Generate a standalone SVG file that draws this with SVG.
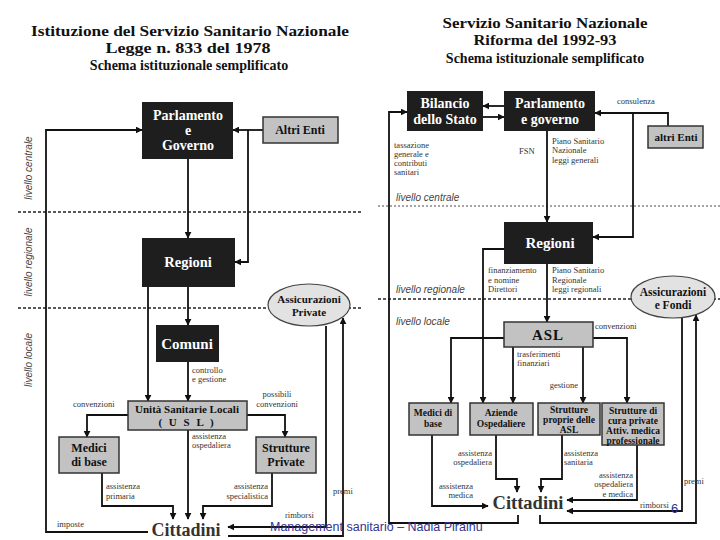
<svg xmlns="http://www.w3.org/2000/svg" width="720" height="540" viewBox="0 0 720 540">
<defs>
<marker id="ah" viewBox="0 0 10 10" refX="9" refY="5" markerWidth="7" markerHeight="7" markerUnits="userSpaceOnUse" orient="auto"><path d="M0,0 L10,5 L0,10 z" fill="#111"/></marker>
<style>
.title{font-family:"Liberation Serif",serif;font-weight:bold;fill:#111;text-anchor:middle}
.dark{fill:#1e1e1e}
.wt{font-family:"Liberation Serif",serif;font-weight:bold;fill:#fff;text-anchor:middle}
.gray{fill:#c2c2c2;stroke:#333;stroke-width:1.5}
.bt{font-family:"Liberation Serif",serif;font-weight:bold;fill:#111;text-anchor:middle}
.ell{fill:#e2e2e2;stroke:#444;stroke-width:1.2}
.lbl{font-family:"Liberation Serif",serif;font-size:8.5px;fill:#333}
.lv{font-family:"Liberation Sans",sans-serif;font-style:italic;font-size:10px;fill:#444}
.dash{stroke:#222;stroke-width:1.3;stroke-dasharray:3 2;fill:none}
.dashl{stroke:#888;stroke-width:1.3;stroke-dasharray:2 2;fill:none}
.ca{fill:none;stroke:#111;stroke-width:1.8;marker-end:url(#ah)}
.cit{font-family:"Liberation Serif",serif;font-weight:bold;fill:#333;text-anchor:middle}
</style>
</defs>
<rect width="720" height="540" fill="#fff"/>

<!-- Left titles -->
<text class="title" x="190" y="36" font-size="15" textLength="318" lengthAdjust="spacingAndGlyphs">Istituzione del Servizio Sanitario Nazionale</text>
<text class="title" x="188" y="53" font-size="15" textLength="165" lengthAdjust="spacingAndGlyphs">Legge n. 833 del 1978</text>
<text class="title" x="189" y="70" font-size="14">Schema istituzionale semplificato</text>

<!-- Right titles -->
<text class="title" x="545" y="28" font-size="15" textLength="205" lengthAdjust="spacingAndGlyphs">Servizio Sanitario Nazionale</text>
<text class="title" x="545" y="45" font-size="15" textLength="143" lengthAdjust="spacingAndGlyphs">Riforma del 1992-93</text>
<text class="title" x="545" y="63" font-size="14">Schema istituzionale semplificato</text>

<!-- Level separators -->
<line class="dash" x1="18" y1="212" x2="362" y2="212"/>
<line class="dash" x1="18" y1="308" x2="362" y2="308"/>
<line class="dashl" x1="378" y1="206" x2="720" y2="206"/>
<line class="dash" x1="378" y1="299" x2="720" y2="299"/>
<text class="lv" transform="translate(32,168) rotate(-90)" text-anchor="middle">livello centrale</text>
<text class="lv" transform="translate(32,262) rotate(-90)" text-anchor="middle">livello regionale</text>
<text class="lv" transform="translate(32,360) rotate(-90)" text-anchor="middle">livello locale</text>
<text class="lv" x="396" y="201" font-size="10.5">livello centrale</text>
<text class="lv" x="396" y="293" font-size="10.5">livello regionale</text>
<text class="lv" x="396" y="325" font-size="10.5">livello locale</text>

<!-- Left connectors -->
<g id="connectors-left">
<path class="ca" d="M188,159 V238"/>
<path class="ca" d="M263,130 H233"/>
<path class="ca" d="M248,130 V262 H235"/>
<path class="ca" d="M188,287 V325"/>
<path class="ca" d="M148,287 V401"/>
<path class="ca" d="M188,362 V401"/>
<path class="ca" d="M128,415 H87 V437"/>
<path class="ca" d="M247,415 H285 V437"/>
<path class="ca" d="M188,430 V519"/>
<path class="ca" d="M102,473 V506 H173 V519"/>
<path class="ca" d="M272,473 V506 H203 V519"/>
<path class="ca" d="M148,532 H46 V130 H142"/>
<path class="ca" d="M326,326 V527 H228"/>
<path class="ca" d="M228,536 H343 V318"/>
</g>

<!-- Left labels -->
<text class="lbl" x="192" y="373">controllo</text>
<text class="lbl" x="192" y="382">e gestione</text>
<text class="lbl" x="73" y="407">convenzioni</text>
<text class="lbl" x="277" y="397" text-anchor="middle">possibili</text>
<text class="lbl" x="277" y="407" text-anchor="middle">convenzioni</text>
<text class="lbl" x="192" y="439">assistenza</text>
<text class="lbl" x="192" y="448">ospedaliera</text>
<text class="lbl" x="106" y="489">assistenza</text>
<text class="lbl" x="106" y="499">primaria</text>
<text class="lbl" x="268" y="489" text-anchor="end">assistenza</text>
<text class="lbl" x="268" y="499" text-anchor="end">specialistica</text>
<text class="lbl" x="57" y="527">imposte</text>
<text class="lbl" x="285" y="518">rimborsi</text>
<text class="lbl" x="333" y="494">premi</text>

<!-- Left nodes -->
<g id="l-parlamento">
<rect class="dark" x="142" y="102" width="91" height="57"/>
<text class="wt" x="188" y="120" font-size="14">Parlamento</text>
<text class="wt" x="188" y="135" font-size="14">e</text>
<text class="wt" x="188" y="150" font-size="14">Governo</text>
</g>
<g id="l-altri-enti">
<rect class="gray" x="263" y="117" width="75" height="26"/>
<text class="bt" x="300" y="134" font-size="12">Altri Enti</text>
</g>
<g id="l-regioni">
<rect class="dark" x="142" y="238" width="93" height="49"/>
<text class="wt" x="188" y="267" font-size="14.5">Regioni</text>
</g>
<g id="l-assicurazioni">
<ellipse class="ell" cx="309" cy="305" rx="41" ry="21"/>
<text class="bt" x="309" y="303" font-size="11">Assicurazioni</text>
<text class="bt" x="309" y="316" font-size="11">Private</text>
</g>
<g id="l-comuni">
<rect class="dark" x="156" y="325" width="63" height="37"/>
<text class="wt" x="187" y="349" font-size="15">Comuni</text>
</g>
<g id="l-usl">
<rect class="gray" x="128" y="401" width="119" height="29" fill="#c8c8c8"/>
<text class="bt" x="187" y="413" font-size="11">Unità Sanitarie Locali</text>
<text class="bt" x="187" y="426" font-size="11" letter-spacing="2">( U S L )</text>
</g>
<g id="l-medici">
<rect class="gray" x="59" y="437" width="60" height="36"/>
<text class="bt" x="89" y="452" font-size="12">Medici</text>
<text class="bt" x="89" y="466" font-size="12">di base</text>
</g>
<g id="l-strutture">
<rect class="gray" x="256" y="437" width="60" height="36"/>
<text class="bt" x="286" y="452" font-size="12">Strutture</text>
<text class="bt" x="286" y="466" font-size="12">Private</text>
</g>
<g id="l-cittadini">
<text class="cit" x="186" y="536" font-size="18">Cittadini</text>
</g>

<!-- Right connectors -->
<g id="connectors-right">
<path class="ca" d="M504,106 H483"/>
<path class="ca" d="M483,117 H504"/>
<path class="ca" d="M668,126 V113 H595"/>
<path class="ca" d="M633,113 V237 H593"/>
<path class="ca" d="M547,131 V222"/>
<path class="ca" d="M504,249 H483 V403"/>
<path class="ca" d="M547,264 V322"/>
<path class="ca" d="M504,338 H451 V403"/>
<path class="ca" d="M593,338 H627 V403"/>
<path class="ca" d="M513,347 V403"/>
<path class="ca" d="M583,347 V403"/>
<path class="ca" d="M432,435 V506 H488"/>
<path class="ca" d="M496,435 V479 H517 V492"/>
<path class="ca" d="M562,435 V479 H541 V492"/>
<path class="ca" d="M637,445 V500 H567"/>
<path class="ca" d="M682,317 V511 H567"/>
<path class="ca" d="M540,515 V523 H696 V315"/>
<path class="ca" d="M518,515 V523 H389 V112 H407"/>
</g>

<!-- Right labels -->
<text class="lbl" x="617" y="104">consulenza</text>
<text class="lbl" x="394" y="148">tassazione</text>
<text class="lbl" x="394" y="157">generale e</text>
<text class="lbl" x="394" y="166">contributi</text>
<text class="lbl" x="394" y="175">sanitari</text>
<text class="lbl" x="519" y="154">FSN</text>
<text class="lbl" x="552" y="144">Piano Sanitario</text>
<text class="lbl" x="552" y="153">Nazionale</text>
<text class="lbl" x="552" y="163">leggi generali</text>
<text class="lbl" x="488" y="273">finanziamento</text>
<text class="lbl" x="488" y="283">e nomine</text>
<text class="lbl" x="488" y="292">Direttori</text>
<text class="lbl" x="552" y="273">Piano Sanitario</text>
<text class="lbl" x="552" y="283">Regionale</text>
<text class="lbl" x="552" y="292">leggi regionali</text>
<text class="lbl" x="595" y="329">convenzioni</text>
<text class="lbl" x="517" y="357">trasferimenti</text>
<text class="lbl" x="517" y="366">finanziari</text>
<text class="lbl" x="578" y="388" text-anchor="end">gestione</text>
<text class="lbl" x="492" y="456" text-anchor="end">assistenza</text>
<text class="lbl" x="492" y="465" text-anchor="end">ospedaliera</text>
<text class="lbl" x="564" y="456">assistenza</text>
<text class="lbl" x="564" y="465">sanitaria</text>
<text class="lbl" x="473" y="489" text-anchor="end">assistenza</text>
<text class="lbl" x="473" y="498" text-anchor="end">medica</text>
<text class="lbl" x="633" y="478" text-anchor="end">assistenza</text>
<text class="lbl" x="633" y="487" text-anchor="end">ospedaliera</text>
<text class="lbl" x="633" y="497" text-anchor="end">e medica</text>
<text class="lbl" x="640" y="508">rimborsi</text>
<text class="lbl" x="684" y="484">premi</text>

<!-- Right nodes -->
<g id="r-bilancio">
<rect class="dark" x="407" y="91" width="76" height="40"/>
<text class="wt" x="445" y="108" font-size="14">Bilancio</text>
<text class="wt" x="445" y="124" font-size="14">dello Stato</text>
</g>
<g id="r-parlamento">
<rect class="dark" x="504" y="91" width="91" height="40"/>
<text class="wt" x="550" y="108" font-size="14">Parlamento</text>
<text class="wt" x="550" y="124" font-size="14">e governo</text>
</g>
<g id="r-altri-enti">
<rect class="gray" x="648" y="126" width="55" height="22"/>
<text class="bt" x="676" y="141" font-size="11">altri Enti</text>
</g>
<g id="r-regioni">
<rect class="dark" x="504" y="222" width="89" height="42"/>
<text class="wt" x="550" y="248" font-size="15">Regioni</text>
</g>
<g id="r-assicurazioni">
<ellipse class="ell" cx="673" cy="297" rx="42" ry="21"/>
<text class="bt" x="673" y="296" font-size="11.5">Assicurazioni</text>
<text class="bt" x="673" y="309" font-size="11.5">e Fondi</text>
</g>
<g id="r-asl">
<rect class="gray" x="504" y="322" width="89" height="25" fill="#b8b8b8"/>
<text class="bt" x="548" y="340" font-size="15" letter-spacing="1">ASL</text>
</g>
<g id="r-medici">
<rect class="gray" x="409" y="403" width="49" height="32"/>
<text class="bt" x="433" y="416" font-size="9.5">Medici di</text>
<text class="bt" x="433" y="427" font-size="9.5">base</text>
</g>
<g id="r-aziende">
<rect class="gray" x="470" y="403" width="63" height="32"/>
<text class="bt" x="501" y="416" font-size="9.5">Aziende</text>
<text class="bt" x="501" y="427" font-size="9.5">Ospedaliere</text>
</g>
<g id="r-strutture-proprie">
<rect class="gray" x="538" y="403" width="62" height="32"/>
<text class="bt" x="569" y="413" font-size="9.5">Strutture</text>
<text class="bt" x="569" y="423" font-size="9.5">proprie delle</text>
<text class="bt" x="569" y="433" font-size="9.5">ASL</text>
</g>
<g id="r-strutture-cura">
<rect class="gray" x="602" y="403" width="62" height="42"/>
<text class="bt" x="633" y="414" font-size="9.5">Strutture di</text>
<text class="bt" x="633" y="424" font-size="9.5">cura private</text>
<text class="bt" x="633" y="434" font-size="9.5">Attiv. medica</text>
<text class="bt" x="633" y="444" font-size="9.5">professionale</text>
</g>
<g id="r-cittadini">
<text class="cit" x="528" y="509" font-size="18.5">Cittadini</text>
</g>

<!-- Footer -->
<text x="270" y="531" font-family="Liberation Sans, sans-serif" font-size="12.5" fill="#33338f">Management sanitario – Nadia Pirainu</text>
<text x="671" y="513" font-family="Liberation Sans, sans-serif" font-size="13" fill="#33338f">6</text>
</svg>
